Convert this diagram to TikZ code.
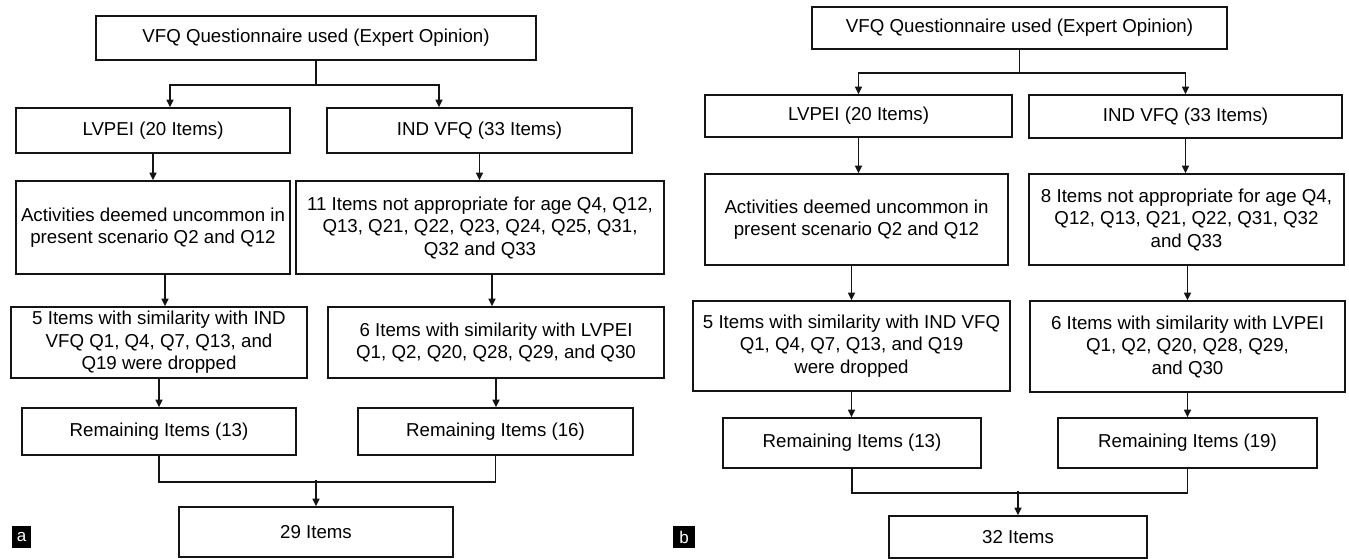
\documentclass[tikz,border=0pt]{standalone}
\usepackage{fontspec}
\setmainfont{Liberation Sans}
\usetikzlibrary{arrows.meta}
\definecolor{ink}{HTML}{141414}
\tikzset{
 bx/.style={draw=ink, line width=1.6pt, align=center, inner sep=0pt, text=black,
   font=\fontsize{18.7}{22.5}\selectfont},
 arr/.style={draw=ink, line width=1.6pt, -{Triangle[length=7.5pt,width=7pt]}},
 ln/.style={draw=ink, line width=1.6pt},
 tag/.style={fill=black, text=white, inner sep=0pt, font=\fontsize{17}{17}\selectfont}
}
\begin{document}
\begin{tikzpicture}[x=1pt,y=-1pt]
\useasboundingbox (0,0) rectangle (1349,559);
% ---------------- panel a ----------------
\node[bx, minimum width=440pt, minimum height=44pt] (a0) at (316,38) {VFQ Questionnaire used (Expert Opinion)};
\node[bx, minimum width=274pt, minimum height=45pt] (a1) at (153,130.5) {LVPEI (20 Items)};
\node[bx, minimum width=305pt, minimum height=45pt] (a2) at (479.5,130.5) {IND VFQ (33 Items)};
\node[bx, minimum width=274pt, minimum height=93pt] (a3) at (153,227.5) {Activities deemed uncommon in\\present scenario Q2 and Q12};
\node[bx, minimum width=368pt, minimum height=93pt] (a4) at (480,227.5) {11 Items not appropriate for age Q4, Q12,\\Q13, Q21, Q22, Q23, Q24, Q25, Q31,\\Q32 and Q33};
\node[bx, minimum width=296pt, minimum height=71pt] (a5) at (159,342.5) {5 Items with similarity with IND\\VFQ Q1, Q4, Q7, Q13, and\\Q19 were dropped};
\node[bx, minimum width=336pt, minimum height=71pt] (a6) at (496,342.5) {6 Items with similarity with LVPEI\\Q1, Q2, Q20, Q28, Q29, and Q30};
\node[bx, minimum width=274pt, minimum height=47pt] (a7) at (159,431.5) {Remaining Items (13)};
\node[bx, minimum width=275pt, minimum height=47pt] (a8) at (495.5,431.5) {Remaining Items (16)};
\node[bx, minimum width=274pt, minimum height=50pt] (a9) at (316,532) {29 Items};
\node[tag, minimum width=19pt, minimum height=22pt] (la) at (21.5,537) {a};

\draw[arr] (a0.south) -- ++(0,24) -| ([xshift=17pt]a1.north);
\draw[arr] (a0.south) -- ++(0,24) -| ([xshift=-40.5pt]a2.north);
\draw[arr] (a1.south) -- (a1.south |- a3.north);
\draw[arr] (a2.south) -- (a2.south |- a4.north);
\draw[arr] ([xshift=12pt]a3.south) -- ([xshift=12pt]a3.south |- a5.north);
\draw[arr] ([xshift=12pt]a4.south) -- ([xshift=12pt]a4.south |- a6.north);
\draw[arr] (a5.south) -- (a5.south |- a7.north);
\draw[arr] (a6.south) -- (a6.south |- a8.north);
\draw[ln] (a7.south) -- ++(0,26) -| (a8.south);
\draw[arr] ([yshift=26pt]a9.north) -- (a9.north);

% ---------------- panel b ----------------
\node[bx, minimum width=415pt, minimum height=42pt] (b0) at (1019.5,28) {VFQ Questionnaire used (Expert Opinion)};
\node[bx, minimum width=307pt, minimum height=42pt] (b1) at (858.5,116) {LVPEI (20 Items)};
\node[bx, minimum width=313pt, minimum height=43pt] (b2) at (1185.5,116.5) {IND VFQ (33 Items)};
\node[bx, minimum width=303pt, minimum height=91pt] (b3) at (856.5,219.5) {Activities deemed uncommon in\\present scenario Q2 and Q12};
\node[bx, minimum width=315pt, minimum height=91pt] (b4) at (1186.5,219.5) {8 Items not appropriate for age Q4,\\Q12, Q13, Q21, Q22, Q31, Q32\\and Q33};
\node[bx, minimum width=317pt, minimum height=90pt] (b5) at (851.5,346) {5 Items with similarity with IND VFQ\\Q1, Q4, Q7, Q13, and Q19\\were dropped};
\node[bx, minimum width=315pt, minimum height=91pt] (b6) at (1187.5,346.5) {6 Items with similarity with LVPEI\\Q1, Q2, Q20, Q28, Q29,\\and Q30};
\node[bx, minimum width=258pt, minimum height=50pt] (b7) at (852,443) {Remaining Items (13)};
\node[bx, minimum width=259pt, minimum height=50pt] (b8) at (1187.5,443) {Remaining Items (19)};
\node[bx, minimum width=258pt, minimum height=42pt] (b9) at (1018,537) {32 Items};
\node[tag, minimum width=22pt, minimum height=22pt] (lb) at (684,537) {b};

\draw[arr] (b0.south) -- ++(0,23) -| (b1.north);
\draw[arr] (b0.south) -- ++(0,23) -| (b2.north);
\draw[arr] (b1.south) -- (b1.south |- b3.north);
\draw[arr] (b2.south) -- (b2.south |- b4.north);
\draw[arr] (b3.south -| b5.north) -- (b5.north);
\draw[arr] (b4.south -| b6.north) -- (b6.north);
\draw[arr] (b5.south) -- (b5.south |- b7.north);
\draw[arr] (b6.south) -- (b6.south |- b8.north);
\draw[ln] (b7.south) -- ++(0,24) -| (b8.south);
\draw[arr] ([yshift=24pt]b9.north) -- (b9.north);
\end{tikzpicture}
\end{document}
